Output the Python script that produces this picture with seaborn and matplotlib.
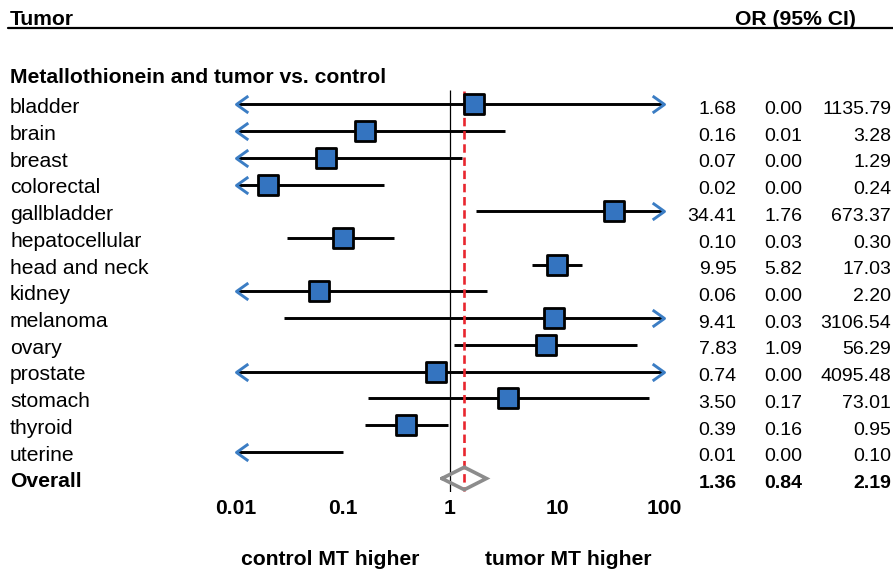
import numpy as np
import pandas as pd
import matplotlib
matplotlib.use("Agg")
import matplotlib.pyplot as plt
import seaborn as sns
from matplotlib.transforms import blended_transform_factory
from matplotlib.ticker import NullLocator

# ---- data ----
tumors = ["bladder", "brain", "breast", "colorectal", "gallbladder", "hepatocellular",
          "head and neck", "kidney", "melanoma", "ovary", "prostate", "stomach",
          "thyroid", "uterine"]
odds_ratio = [1.68, 0.16, 0.07, 0.02, 34.41, 0.10, 9.95, 0.06, 9.41, 7.83, 0.74, 3.50, 0.39, 0.007]
ci_lower = [0.003, 0.008, 0.004, 0.003, 1.76, 0.03, 5.82, 0.004, 0.028, 1.09, 0.004, 0.17, 0.16, 0.004]
ci_upper = [1135.79, 3.28, 1.29, 0.24, 673.37, 0.30, 17.03, 2.20, 3106.54, 56.29, 4095.48, 73.01, 0.95, 0.10]
overall = {"label": "Overall", "or": 1.36, "lo": 0.84, "hi": 2.19}
group_title = "Metallothionein and tumor vs. control"
tick_values = [0.01, 0.1, 1, 10, 100]
tick_labels = ["0.01", "0.1", "1", "10", "100"]
x_min, x_max = 0.01, 100

df = pd.DataFrame({"tumor": tumors, "OR": odds_ratio, "lo": ci_lower, "hi": ci_upper})
df["row"] = np.arange(len(df))
overall_row = len(df)

sns.set_theme(style="white")
plt.rcParams["font.family"] = ["Liberation Sans", "DejaVu Sans"]
plt.rcParams["text.color"] = "black"
plt.rcParams["xtick.color"] = "black"
plt.rcParams["xtick.labelcolor"] = "black"

W, H = 893, 573
fig = plt.figure(figsize=(W / 100, H / 100), dpi=100)
row0_px, row_step = 104.4, 26.72
ax_bottom_px = 492
ax = fig.add_axes([236 / W, (H - ax_bottom_px) / H, 428 / W, ax_bottom_px / H])
ax.set_xscale("log")
ax.set_xlim(x_min, x_max)
for s in ax.spines.values():
    s.set_visible(False)
ax.set_yticks([])
ax.xaxis.set_minor_locator(NullLocator())
ax.set_xticks(tick_values)
ax.set_xticklabels(tick_labels, fontsize=15.2, fontweight="bold", color="black")
ax.tick_params(axis="x", length=0, pad=5.0)
ax.grid(False)

blue = "#3474c0"
arrow_blue = "#3b7dc4"

# reference lines
ax.vlines(1, -0.54, 14.53, color="black", lw=0.9, zorder=1)
ax.vlines(overall["or"], -0.5, 14.45, color="#e8262e", lw=1.9, linestyles=(0, (3.2, 1.8)), zorder=4)

# CI lines
lo_clip = df["lo"].clip(lower=x_min)
hi_clip = df["hi"].clip(upper=x_max)
ax.hlines(df["row"], lo_clip, hi_clip, color="black", lw=2.1, zorder=2)

# arrows for truncated CIs
left_marker = [(0.7, 0.5), (0.0, 0.0), (0.7, -0.5)]
right_marker = [(-0.7, 0.5), (0.0, 0.0), (-0.7, -0.5)]
left_rows = df.loc[df["lo"] < x_min, "row"]
right_rows = df.loc[df["hi"] > x_max, "row"]
ax.plot(np.full(len(left_rows), x_min), left_rows, linestyle="none", marker=left_marker,
        markersize=17, markerfacecolor="none", markeredgecolor=arrow_blue, markeredgewidth=2.1,
        clip_on=False, zorder=3)
ax.plot(np.full(len(right_rows), x_max), right_rows, linestyle="none", marker=right_marker,
        markersize=17, markerfacecolor="none", markeredgecolor=arrow_blue, markeredgewidth=2.1,
        clip_on=False, zorder=3)

# squares
vis = df[(df["OR"] >= x_min) & (df["OR"] <= x_max)]
sns.scatterplot(data=vis, x="OR", y="row", marker="s", s=215, color=blue,
                edgecolor="black", linewidth=2.0, zorder=5, ax=ax, legend=False)
ax.set_xlabel("")
ax.set_ylabel("")
ax.set_xlim(x_min, x_max)
ax.set_ylim((ax_bottom_px - row0_px) / row_step, -row0_px / row_step)

# overall diamond
dh = 0.42
ax.plot([overall["lo"], overall["or"], overall["hi"], overall["or"], overall["lo"]],
        [overall_row, overall_row - dh, overall_row, overall_row + dh, overall_row],
        color="#8c8c8c", lw=2.6, zorder=5, solid_joinstyle="miter", clip_on=False)

# texts
tr = blended_transform_factory(fig.transFigure, ax.transData)
fs = 15.2
fs_num = 14.0
label_x = 10 / W
col_or, col_lo, col_hi = 736.5 / W, 802 / W, 891 / W

ax.text(label_x, -2.97, "Tumor", transform=tr, fontsize=fs, fontweight="bold", va="baseline", ha="left")
ax.text(856 / W, -2.97, "OR (95% CI)", transform=tr, fontsize=fs, fontweight="bold", va="baseline", ha="right")
ax.plot([8 / W, 1.0], [-2.86, -2.86], transform=tr, color="black", lw=1.6, clip_on=False)
ax.text(label_x, -0.79, group_title, transform=tr, fontsize=fs, fontweight="bold", va="baseline", ha="left")

for _, r in df.iterrows():
    y = r["row"]
    ax.text(label_x, y + 0.33, r["tumor"], transform=tr, fontsize=fs, va="baseline", ha="left")
    ax.text(col_or, y + 0.36, f"{r['OR']:.2f}", transform=tr, fontsize=fs_num, va="baseline", ha="right")
    ax.text(col_lo, y + 0.36, f"{r['lo']:.2f}", transform=tr, fontsize=fs_num, va="baseline", ha="right")
    ax.text(col_hi, y + 0.36, f"{r['hi']:.2f}", transform=tr, fontsize=fs_num, va="baseline", ha="right")

y = overall_row
ax.text(label_x, y + 0.33, overall["label"], transform=tr, fontsize=fs, fontweight="bold", va="baseline", ha="left")
ax.text(col_or, y + 0.36, f"{overall['or']:.2f}", transform=tr, fontsize=fs_num, fontweight="bold", va="baseline", ha="right")
ax.text(col_lo, y + 0.36, f"{overall['lo']:.2f}", transform=tr, fontsize=fs_num, fontweight="bold", va="baseline", ha="right")
ax.text(col_hi, y + 0.36, f"{overall['hi']:.2f}", transform=tr, fontsize=fs_num, fontweight="bold", va="baseline", ha="right")

ax.text(330 / W, 17.24, "control MT higher", transform=tr, fontsize=fs, fontweight="bold", va="baseline", ha="center")
ax.text(568 / W, 17.24, "tumor MT higher", transform=tr, fontsize=fs, fontweight="bold", va="baseline", ha="center")

fig.savefig("out.png", dpi=100, facecolor="white")
